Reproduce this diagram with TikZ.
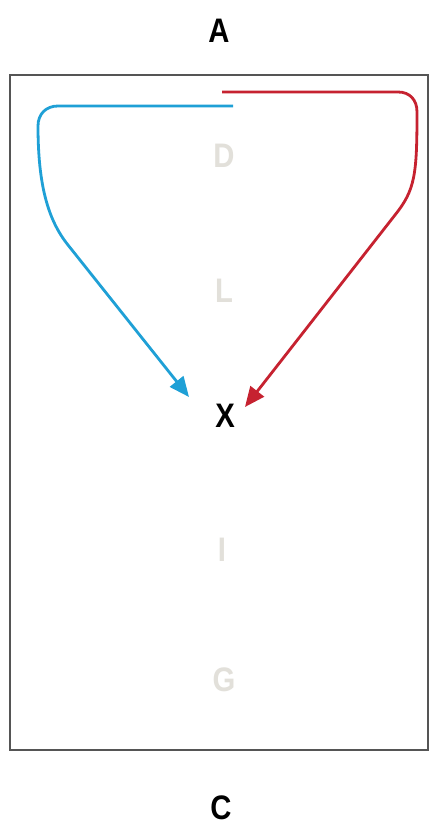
\documentclass[tikz,border=0pt]{standalone}
\usepackage{fontspec}
\newfontfamily\lblfont[FakeStretch=0.86]{Liberation Sans}
\usetikzlibrary{arrows.meta}
\definecolor{cblue}{HTML}{1FA0D6}
\definecolor{cred}{HTML}{C62230}
\definecolor{faint}{HTML}{E2E0DA}
\definecolor{frame}{HTML}{555555}
\tikzset{
  lbl/.style={font=\lblfont\fontsize{34}{38}\selectfont\bfseries, inner sep=0pt},
  ghost/.style={lbl, text=faint},
  flow/.style={line width=2.8pt, -{Triangle[length=20pt,width=17pt]}},
}
\begin{document}
\begin{tikzpicture}[x=1pt,y=-1pt]
\useasboundingbox (0,0) rectangle (431,832);
\fill[white] (0,0) rectangle (431,832);
\draw[frame, line width=1.5pt] (10,75) rectangle (428,750);
\node[lbl] (A) at (219,31) {A};
\node[lbl] (C) at (221,808) {C};
\node[ghost] (D) at (224,156) {D};
\node[ghost] (L) at (224,291) {L};
\node[lbl] (X) at (225,416) {X};
\node[ghost] (I) at (222,550) {I};
\node[ghost] (G) at (224,680) {G};
\coordinate (bs) at (233,106);
\coordinate (rs) at (222,92);
\draw[flow, cblue] (bs) -- (58,106) .. controls (46,106) and (38,114) .. (38,126)
  .. controls (38,185) and (48,220) .. (68,245) -- ([xshift=-36pt,yshift=19pt]X.center);
\draw[flow, cred] (rs) -- (398,92) .. controls (410,92) and (417,100) .. (417,112)
  .. controls (417,175) and (415,190) .. (395,215) -- ([xshift=20pt,yshift=9pt]X.center);
\end{tikzpicture}
\end{document}
